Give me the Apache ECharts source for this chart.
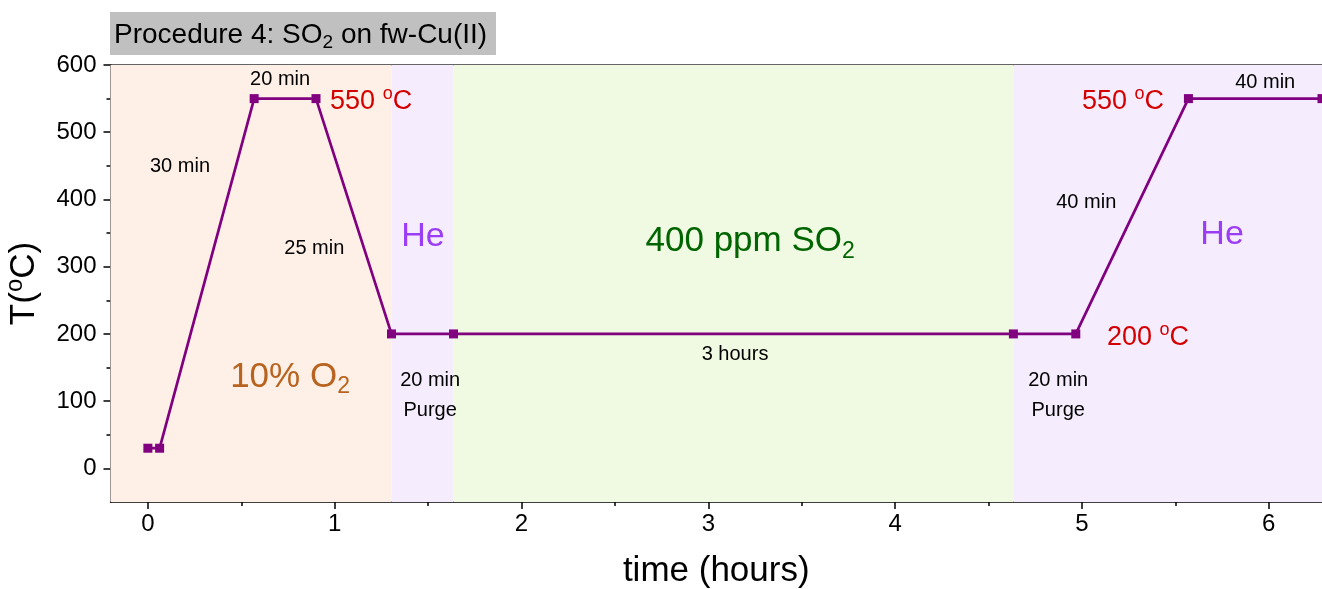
<!DOCTYPE html>
<html>
<head>
<meta charset="utf-8">
<title>Procedure 4: SO2 on fw-Cu(II)</title>
<script src="https://cdn.jsdelivr.net/npm/echarts@6/dist/echarts.min.js"></script>
<style>
  html, body { margin: 0; padding: 0; background: #fff; }
  #chart { width: 1322px; height: 589px; }
</style>
</head>
<body>
<div id="chart"></div>
<script>
// Temperature programme: time in hours, temperature in °C
const timeHours = [0, 0.063, 0.569, 0.900, 1.304, 1.636, 4.633, 4.967, 5.570, 6.285];
const tempC     = [30, 30, 550, 550, 200, 200, 200, 200, 550, 550];

// Gas atmosphere periods [start, end] in hours
const gasStart = [-0.2, 1.304, 1.636, 4.633];
const gasEnd   = [1.304, 1.636, 4.633, 6.285];
const gasColor = ['#fef0e6', '#f5ecfd', '#f0f9e1', '#f5ecfd'];

// Axis ticks
const xTicks = [0, 1, 2, 3, 4, 5, 6];
const xMinorTicks = [0.5, 1.5, 2.5, 3.5, 4.5, 5.5];
const yTicks = [0, 100, 200, 300, 400, 500, 600];
const yMinorTicks = [50, 150, 250, 350, 450, 550];

// Annotations: text, anchor (hours, °C), style
const noteText = [
  '20 min', '550 {sup|o}C', '30 min', '25 min', 'He', '400 ppm SO{sub|2}',
  '10% O{sub|2}', '20 min\nPurge', '3 hours', '20 min\nPurge', '200 {sup|o}C',
  '40 min', '550 {sup|o}C', '40 min', 'He'
];
const noteX = [0.708, 1.195, 0.172, 0.891, 1.473, 3.224, 0.761, 1.511, 3.143, 4.873, 5.354, 5.023, 5.220, 5.981, 5.750];
const noteY = [579, 546, 449, 327, 345, 337, 136, 108, 170, 108, 194, 396, 546, 574, 347];
const noteKind = ['step', 'temp', 'step', 'step', 'he', 'so2', 'o2', 'step', 'step', 'step', 'temp', 'step', 'temp', 'step', 'he'];

const kindStyle = {
  step: { color: '#000000', fontSize: 20, sub: 14, sup: 14 },
  temp: { color: '#d40000', fontSize: 27, sub: 18, sup: 18 },
  he:   { color: '#9b3df5', fontSize: 34, sub: 22, sup: 22 },
  so2:  { color: '#006400', fontSize: 35, sub: 23, sup: 23 },
  o2:   { color: '#b8631f', fontSize: 35, sub: 23, sup: 23 }
};

const FONT = '"Liberation Sans", Arial, sans-serif';

function noteLabel(kind) {
  const s = kindStyle[kind];
  return {
    show: true,
    position: 'inside',
    color: s.color,
    fontSize: s.fontSize,
    fontFamily: FONT,
    lineHeight: Math.round(s.fontSize * 1.5),
    align: 'center',
    verticalAlign: 'middle',
    rich: {
      sub: { fontSize: s.sub, fontFamily: FONT, color: s.color, padding: [Math.round(s.fontSize * 0.55), 0, 0, 0] },
      sup: { fontSize: s.sup, fontFamily: FONT, color: s.color, padding: [0, 0, Math.round(s.fontSize * 0.55), 0] }
    }
  };
}

const notes = noteText.map((t, i) => ({
  value: [noteX[i], noteY[i]],
  label: Object.assign(noteLabel(noteKind[i]), { formatter: t })
}));

const bands = gasStart.map((s, i) => [
  { xAxis: s, itemStyle: { color: gasColor[i] } },
  { xAxis: gasEnd[i] }
]);

const X_MIN = -0.2, X_MAX = 6.285, Y_MIN = -50, Y_MAX = 600;

const chart = echarts.init(document.getElementById('chart'), null, { renderer: 'canvas' });

const option = {
  animation: false,
  backgroundColor: '#ffffff',
  textStyle: { fontFamily: FONT },
  grid: { left: 110.5, right: 0, top: 65, bottom: 87, containLabel: false, outerBoundsMode: 'none' },
  graphic: [
    {
      type: 'group', left: 110, top: 12,
      children: [
        { type: 'rect', shape: { x: 0, y: 0, width: 386, height: 43 }, style: { fill: '#c0c0c0' } },
        {
          type: 'text', x: 4, y: 6,
          style: {
            text: 'Procedure 4: SO{sub|2} on fw-Cu(II)',
            fontSize: 28, fontFamily: FONT, fill: '#000',
            rich: { sub: { fontSize: 19, fontFamily: FONT, fill: '#000', padding: [15, 0, 0, 0] } }
          }
        }
      ]
    }
  ],
  xAxis: [
    {
      type: 'value', min: X_MIN, max: X_MAX, position: 'bottom',
      name: 'time (hours)', nameLocation: 'middle', nameGap: 52,
      nameTextStyle: { fontSize: 35, color: '#000', fontFamily: FONT },
      axisLine: { show: true, onZero: false, lineStyle: { color: '#000', width: 1.5 } },
      axisTick: { show: true, inside: false, length: 7, customValues: xTicks, lineStyle: { color: '#000', width: 1.5 } },
      axisLabel: { show: true, customValues: xTicks, margin: 10, fontSize: 24, color: '#000', fontFamily: FONT },
      splitLine: { show: false }
    },
    {
      type: 'value', min: X_MIN, max: X_MAX, position: 'bottom',
      axisLine: { show: false, onZero: false },
      axisTick: { show: true, inside: false, length: 4, customValues: xMinorTicks, lineStyle: { color: '#000', width: 1.5 } },
      axisLabel: { show: false },
      splitLine: { show: false }
    },
    {
      type: 'value', min: X_MIN, max: X_MAX, position: 'top',
      axisLine: { show: true, onZero: false, lineStyle: { color: '#333', width: 1.5 } },
      axisTick: { show: false }, axisLabel: { show: false }, splitLine: { show: false }
    }
  ],
  yAxis: [
    {
      type: 'value', min: Y_MIN, max: Y_MAX, position: 'left',
      name: 'T({sup|o}C)', nameLocation: 'middle', nameGap: 66, nameRotate: 90,
      nameTextStyle: {
        fontSize: 35, color: '#000', fontFamily: FONT,
        rich: { sup: { fontSize: 24, fontFamily: FONT, color: '#000', padding: [0, 0, 17, 0] } }
      },
      axisLine: { show: true, onZero: false, lineStyle: { color: '#000', width: 1.5 } },
      axisTick: { show: true, inside: false, length: 7, customValues: yTicks, lineStyle: { color: '#000', width: 1.5 } },
      axisLabel: { show: true, customValues: yTicks, margin: 14, fontSize: 24, color: '#000', fontFamily: FONT },
      splitLine: { show: false }
    },
    {
      type: 'value', min: Y_MIN, max: Y_MAX, position: 'left',
      axisLine: { show: false, onZero: false },
      axisTick: { show: true, inside: false, length: 4, customValues: yMinorTicks, lineStyle: { color: '#000', width: 1.5 } },
      axisLabel: { show: false },
      splitLine: { show: false }
    }
  ],
  series: [
    {
      name: 'atmosphere',
      type: 'line',
      xAxisIndex: 0, yAxisIndex: 0,
      data: [],
      silent: true,
      markArea: { silent: true, data: bands },
      z: 1
    },
    {
      name: 'T',
      type: 'line',
      xAxisIndex: 0, yAxisIndex: 0,
      data: timeHours.map((t, i) => [t, tempC[i]]),
      symbol: 'rect',
      symbolSize: 9,
      clip: false,
      lineStyle: { color: '#800080', width: 2.7 },
      itemStyle: { color: '#800080' },
      z: 5
    },
    {
      name: 'notes',
      type: 'scatter',
      xAxisIndex: 0, yAxisIndex: 0,
      symbolSize: 0,
      silent: true,
      itemStyle: { opacity: 1 },
      data: notes,
      z: 6
    }
  ]
};

chart.setOption(option);
</script>
</body>
</html>
